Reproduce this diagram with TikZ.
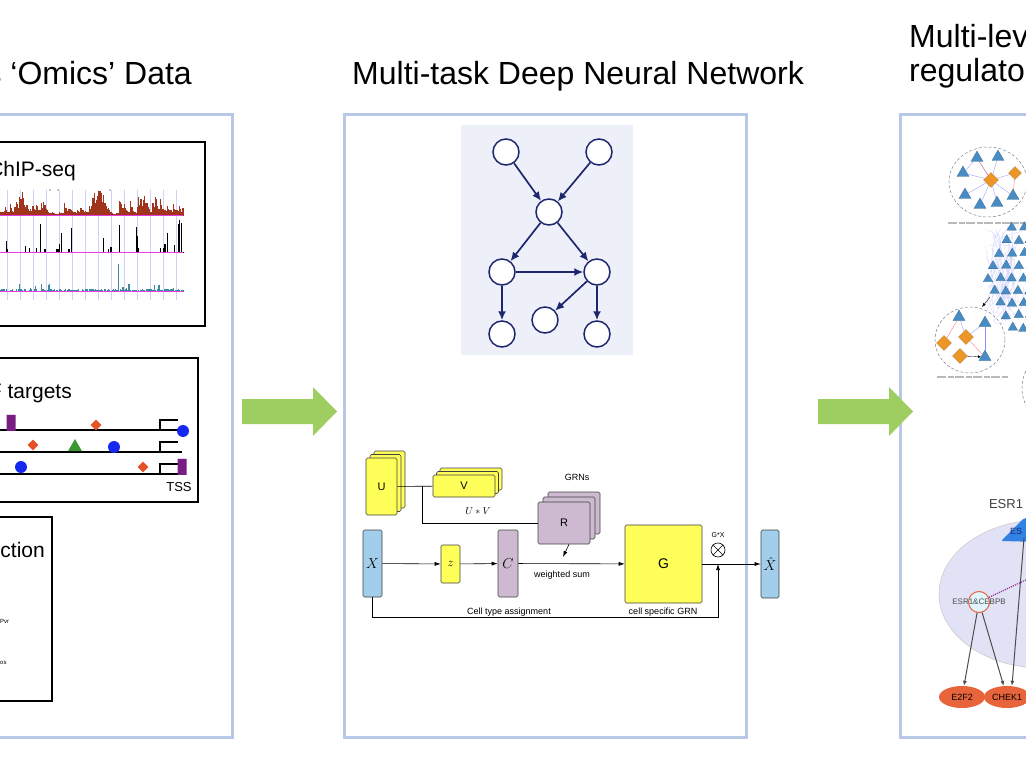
\documentclass[tikz,border=0pt]{standalone}
\usepackage{fontspec}
\setmainfont{Liberation Sans}
\usepackage{amsmath}
\usetikzlibrary{shapes.geometric,arrows.meta,positioning}

\definecolor{panelblue}{RGB}{184,201,232}
\definecolor{flowgreen}{RGB}{158,206,98}
\definecolor{navy}{RGB}{30,38,110}
\definecolor{graphbg}{RGB}{238,240,249}
\definecolor{archyellow}{RGB}{255,255,90}
\definecolor{archlilac}{RGB}{206,186,208}
\definecolor{archblue}{RGB}{162,206,236}
\definecolor{chipbrown}{RGB}{160,52,28}
\definecolor{chipteal}{RGB}{60,140,160}
\definecolor{chipmag}{RGB}{230,60,230}
\definecolor{chipgrid}{RGB}{205,210,248}
\definecolor{tfpurple}{RGB}{120,30,130}
\definecolor{tforange}{RGB}{232,80,40}
\definecolor{tfgreen}{RGB}{60,150,50}
\definecolor{tfblue}{RGB}{20,40,240}
\definecolor{nettri}{RGB}{72,140,196}
\definecolor{netdia}{RGB}{236,150,40}
\definecolor{esrbg}{RGB}{226,226,246}
\definecolor{esrblue}{RGB}{50,130,230}
\definecolor{esrorange}{RGB}{232,100,58}

\tikzset{
  panel/.style={draw=panelblue, line width=3pt},
  databox/.style={draw=black, line width=1.6pt},
  heading/.style={font=\fontsize{32}{36}\selectfont, inner sep=0pt},
  boxtitle/.style={font=\fontsize{21}{24}\selectfont, inner sep=0pt},
  gnode/.style={circle, draw=navy, line width=1.5pt, fill=white, minimum size=26pt, inner sep=0pt},
  gedge/.style={-{Latex[length=9pt,width=8pt]}, navy, line width=1.7pt},
  ylayer/.style={draw=black!75, fill=archyellow, rounded corners=1.5pt, line width=0.6pt, inner sep=0pt},
  llayer/.style={draw=black!75, fill=archlilac, rounded corners=1.5pt, line width=0.6pt, inner sep=0pt},
  blayer/.style={draw=black!75, fill=archblue, rounded corners=1.5pt, line width=0.6pt, inner sep=0pt},
  archarrow/.style={-{Latex[length=6pt,width=4pt]}, line width=0.6pt},
  archline/.style={line width=0.6pt},
  smalltext/.style={font=\fontsize{9}{10}\selectfont, inner sep=0pt},
  tfdiamond/.style={diamond, fill=tforange, minimum size=11pt, inner sep=0pt},
  tfdot/.style={circle, fill=tfblue, minimum size=12pt, inner sep=0pt},
  tftri/.style={regular polygon, regular polygon sides=3, fill=tfgreen, minimum size=16pt, inner sep=0pt},
  tfcyl/.style={cylinder, shape border rotate=90, aspect=0.3, cylinder uses custom fill,
    cylinder body fill=tfpurple, cylinder end fill=tfpurple!70, minimum width=9pt, minimum height=16pt, inner sep=0pt},
  nettri/.style={regular polygon, regular polygon sides=3, fill=nettri, draw=nettri!70!black, line width=0.2pt, minimum size=14pt, inner sep=0pt},
  netdia/.style={diamond, fill=netdia, draw=netdia!70!black, line width=0.2pt, minimum size=13pt, inner sep=0pt},
  netlink/.style={blue!45, line width=0.3pt},
  caption/.style={gray!55, line width=2pt, dash pattern=on 9pt off 1.5pt on 6pt off 1.5pt},
  esrgene/.style={ellipse, fill=esrorange, minimum width=46pt, minimum height=22pt, inner sep=0pt, font=\fontsize{9}{10}\selectfont},
  esrarrow/.style={-{Latex[length=5pt,width=4pt]}, black!70, line width=1pt}
}

\begin{document}
\begin{tikzpicture}[x=1pt, y=-1pt]
  \useasboundingbox (0,0) rectangle (1026,770);
  \clip (0,0) rectangle (1026,770);

  % headings
  \node[heading, anchor=base east] (omicshead) at (192,85) {s ‘Omics’ Data};
  \node[heading, anchor=base west] (dnnhead) at (352,85) {Multi-task Deep Neural Network};
  \node[heading, anchor=base west] (levhead) at (909,48) {Multi-level};
  \node[heading, anchor=base west] (reghead) at (909,82) {regulatory};

  % panels
  \draw[panel] (-10,115) rectangle (232,737);
  \draw[panel] (344,115) rectangle (746,737);
  \draw[panel] (900,115) rectangle (1040,737);

  % green arrows between panels
  \foreach \x/\name in {242/flowA,818/flowB} {
    \fill[flowgreen] (\x,399) -- ++(71,0) -- ++(0,-12) -- ++(24,24.5) -- ++(-24,24.5) -- ++(0,-12) -- ++(-71,0) -- cycle;
    \coordinate (\name) at (\x,411);
  }

  % ---------- left panel ----------
  \draw[databox] (-10,142) rectangle (205,326);
  \node[boxtitle, anchor=base east] (chiptitle) at (76,177) {ChIP-seq};
  \foreach \x in {7,20,...,183}
    \draw[chipgrid, line width=0.8pt] (\x,190) -- (\x,300);
  \pgfmathsetseed{17}
  \gdef\prevA{4}
  \foreach \x in {0,1.2,...,183} {
    \pgfmathsetmacro\hA{0.55*\prevA+0.45*(1+3*rnd+30*rnd^4)}
    \xdef\prevA{\hA}
    \pgfmathsetmacro\hB{0.5+(rnd>0.86)*(3+30*rnd^2)}
    \pgfmathsetmacro\hC{0.8+2.5*rnd+(rnd>0.9)*7*rnd}
    \fill[chipbrown] (\x,216) rectangle ++(1.25,-\hA);
    \fill[black] (\x,253) rectangle ++(1.1,-\hB);
    \fill[chipteal] (\x,292) rectangle ++(1.1,-\hC);
  }
  \fill[chipteal] (118,292) rectangle ++(1.3,-28);
  \fill[black] (119,253) rectangle ++(1.3,-28);
  \fill[black] (136,253) rectangle ++(1.3,-26);
  \foreach \y in {216,253,292}
    \draw[chipmag, line width=1pt] (0,\y) -- (183,\y);
  \fill (50,190) circle (0.7) (58,190) circle (0.7) (110,190) circle (0.7);

  \draw[databox] (-10,358) rectangle (198,502);
  \node[boxtitle, anchor=base east] (tftitle) at (72,398) {TF targets};
  \draw[line width=1.2pt] (0,430) -- (178,430);
  \draw[line width=1.2pt] (0,452) -- (182,452);
  \draw[line width=1.2pt] (0,474) -- (180,474);
  \foreach \y in {430,452,474}
    \draw[line width=1.2pt] (160,\y) -- ++(0,-10) -- ++(18,0);
  \node[tfcyl] (cylA) at (11,423) {};
  \node[tfdiamond] (diaA) at (96,425) {};
  \node[tfdot] (dotA) at (183,431) {};
  \node[tfdiamond] (diaB) at (33,445) {};
  \node[tftri] (triB) at (75,447) {};
  \node[tfdot] (dotB) at (114,447) {};
  \node[tfdot] (dotC) at (21,467) {};
  \node[tfdiamond] (diaC) at (143,467) {};
  \node[tfcyl] (cylC) at (182,467) {};
  \node[font=\fontsize{13}{14}\selectfont, inner sep=0pt] (tss) at (179,487) {TSS};

  \draw[databox] (-10,517) rectangle (52,701);
  \node[boxtitle, anchor=base east] (predtitle) at (45,557) {ction};
  \node[font=\fontsize{6}{7}\selectfont, anchor=west, inner sep=0pt] (pvr) at (0,621) {Pvr};
  \node[font=\fontsize{6}{7}\selectfont, anchor=west, inner sep=0pt] (pos) at (0,663) {os};

  % ---------- middle panel: graph ----------
  \fill[graphbg] (461,125) rectangle (633,355);
  \node[gnode] (n1) at (506,152) {};
  \node[gnode] (n2) at (599,152) {};
  \node[gnode] (n3) at (549,212) {};
  \node[gnode] (n4) at (502,272) {};
  \node[gnode] (n5) at (597,272) {};
  \node[gnode] (n6) at (545,320) {};
  \node[gnode] (n7) at (502,334) {};
  \node[gnode] (n8) at (597,334) {};
  \draw[gedge] (n1) -- (n3);
  \draw[gedge] (n2) -- (n3);
  \draw[gedge] (n3) -- (n4);
  \draw[gedge] (n3) -- (n5);
  \draw[gedge] (n4) -- (n5);
  \draw[gedge] (n5) -- (n6);
  \draw[gedge] (n4) -- (n7);
  \draw[gedge] (n5) -- (n8);

  % ---------- middle panel: architecture ----------
  \foreach \k in {2,1}
    \draw[ylayer] (366+4*\k,458-3.5*\k) rectangle ++(31,57);
  \node[ylayer, minimum width=31pt, minimum height=57pt, font=\fontsize{11}{12}\selectfont] (ubox) at (381.5,486.5) {U};
  \foreach \k in {2,1}
    \draw[ylayer] (433+3.5*\k,475-3.5*\k) rectangle ++(62,22);
  \node[ylayer, minimum width=62pt, minimum height=22pt, font=\fontsize{11}{12}\selectfont] (vbox) at (464,486) {V};
  \foreach \k in {2,1}
    \draw[llayer] (538+5*\k,502-5*\k) rectangle ++(52,42);
  \node[llayer, minimum width=52pt, minimum height=42pt, font=\fontsize{11}{12}\selectfont] (rbox) at (564,523) {R};
  \node[smalltext] (grns) at (577,477) {GRNs};
  \node[font=\fontsize{10}{11}\selectfont, inner sep=0pt] (uvprod) at (478,511) {$U*V$};

  \coordinate (uvjoin) at (422,486);
  \draw[archline] (ubox) -- (vbox);
  \draw[archline] (uvjoin) |- (rbox.west);
  \coordinate (wsum) at (563,557);
  \draw[archarrow] ([xshift=5pt]rbox.south) -- (wsum);

  \node[blayer, minimum width=19pt, minimum height=67pt, font=\fontsize{14}{15}\selectfont] (xin) at (372.5,563.5) {$X$};
  \node[ylayer, minimum width=19pt, minimum height=38pt, font=\fontsize{13}{14}\selectfont] (zbox) at (450.5,564) {$z$};
  \node[llayer, minimum width=20pt, minimum height=67pt, font=\fontsize{14}{15}\selectfont] (cbox) at (508,563.5) {$C$};
  \node[ylayer, minimum width=77pt, minimum height=78pt, font=\fontsize{14}{15}\selectfont] (gbox) at (663.5,564) {G};
  \node[blayer, minimum width=18pt, minimum height=68pt, font=\fontsize{14}{15}\selectfont] (xhat) at (770,564) {$\hat{X}$};
  \node[circle, draw, line width=0.6pt, minimum size=14pt, inner sep=0pt] (prod) at (718,550) {};
  \draw[archline] (prod.north east) -- (prod.south west);
  \draw[archline] (prod.north west) -- (prod.south east);
  \node[font=\fontsize{7}{8}\selectfont, inner sep=0pt] (gx) at (718,535) {G*X};

  \draw[archarrow] (xin) -- (zbox);
  \draw[archarrow] (zbox) -- (cbox);
  \draw[archarrow] (cbox) -- (gbox);
  \draw[archarrow] (gbox) -- (xhat);
  \coordinate (skipend) at (718,564);
  \draw[archarrow] (xin.south) -- ++(0,20) -| (skipend);
  \node[smalltext] (wsumlabel) at (562,575) {weighted sum};
  \node[smalltext] (celltype) at (509,612) {Cell type assignment};
  \node[smalltext] (cellgrn) at (663,612) {cell specific GRN};

  % ---------- right panel: network overview ----------
  \draw[gray, densely dashed, line width=0.5pt, fill=white] (988,182) ellipse [x radius=39, y radius=35];
  \draw[gray, densely dashed, line width=0.5pt, fill=white] (970,340) ellipse [x radius=35, y radius=33];
  \draw[gray, densely dashed, line width=0.5pt] (1062,388) circle (40);
  \draw[caption] (948,223) -- (1026,223);
  \draw[caption] (937,377) -- (1008,377);

  \pgfmathsetseed{5}
  \foreach \i in {1,...,35}
    \draw[blue!18, line width=0.3pt] (985+40*rnd,225+100*rnd) .. controls (985+40*rnd,225+100*rnd) .. (985+40*rnd,225+100*rnd);
  \foreach \j in {0,...,8} {
    \foreach \i in {0,...,4} {
      \pgfmathsetmacro\px{987+\i*12+mod(\j,2)*6+2*rnd}
      \pgfmathsetmacro\py{227+\j*12.5+2*rnd}
      \pgfmathsetmacro\lim{986+abs(\py-278)*0.4}
      \ifdim\px pt>\lim pt
        \node[nettri, minimum size=11pt] at (\px,\py) {};
      \fi
    }
  }
  \coordinate (clusterarrow) at (982,307);
  \draw[-{Latex[length=4pt,width=3pt]}, black, line width=0.4pt] (990,297) -- (clusterarrow);

  % module 1
  \node[netdia, minimum size=15pt] (m1a) at (991,180) {};
  \node[netdia] (m1b) at (1015,173) {};
  \node[nettri] (m1c) at (977,158) {};
  \node[nettri] (m1d) at (998,157) {};
  \node[nettri] (m1e) at (963,173) {};
  \node[nettri] (m1f) at (965,195) {};
  \node[nettri] (m1g) at (980,205) {};
  \node[nettri] (m1h) at (997,203) {};
  \node[nettri] (m1i) at (1013,196) {};
  \foreach \t in {m1c,m1d,m1e,m1f,m1g,m1h,m1i}
    \draw[netlink] (m1a) -- (\t);
  \draw[netlink, red!60] (m1a) -- (m1c);
  \draw[netlink] (m1a) -- (m1b);
  \draw[netlink, red!60] (m1b) -- (m1i);
  \draw[netlink] (m1e) -- (m1c);

  % module 2
  \node[netdia, minimum size=15pt] (m2a) at (966,337) {};
  \node[netdia, minimum size=15pt] (m2b) at (944,343) {};
  \node[netdia, minimum size=15pt] (m2c) at (960,356) {};
  \node[nettri] (m2d) at (959,317) {};
  \node[nettri] (m2e) at (985,323) {};
  \node[nettri] (m2f) at (985,357) {};
  \draw[netlink, red!60] (m2b) -- (m2d);
  \draw[netlink, red!60] (m2a) -- (m2f);
  \draw[netlink] (m2a) -- (m2d);
  \draw[netlink] (m2a) -- (m2e);
  \draw[netlink] (m2e) -- (m2f);
  \draw[-{Latex[length=3pt,width=3pt]}, black, line width=0.3pt] (m2c) -- (m2f);

  % ---------- right panel: ESR1 module ----------
  \node[font=\fontsize{13}{14}\selectfont, inner sep=0pt, text=black!75] (esrlabel) at (1006,504) {ESR1};
  \node[ellipse, fill=esrbg, draw=black!20, line width=0.6pt, minimum width=206pt, minimum height=148pt] (esrzone) at (1042,594) {};
  \fill[esrblue, rounded corners=2pt] (1001,541) -- (1024,518) -- (1040,518) -- (1040,542) -- cycle;
  \coordinate (esrtf) at (1024,538);
  \node[font=\fontsize{9}{10}\selectfont, text=navy, inner sep=0pt] (esrtflabel) at (1016,531) {ES};
  \node[circle, fill=cyan!12, draw=esrorange, line width=1pt, minimum size=21pt, inner sep=0pt] (cobind) at (979,602) {};
  \node[font=\fontsize{8}{9}\selectfont, text=black!70, inner sep=0pt] (cobindlabel) at (979,602) {ESR1\&CEBPB};
  \coordinate (dottedend) at (1030,578);
  \draw[violet!80, densely dotted, line width=1.2pt] (cobind) -- (dottedend);
  \node[esrgene] (e2f2) at (962,697) {E2F2};
  \node[esrgene] (chek1) at (1007,697) {CHEK1};
  \draw[esrarrow] (cobind) -- (e2f2);
  \draw[esrarrow] (cobind) -- (chek1);
  \draw[esrarrow] (esrtf) -- ([xshift=5pt]chek1.north);
\end{tikzpicture}
\end{document}
